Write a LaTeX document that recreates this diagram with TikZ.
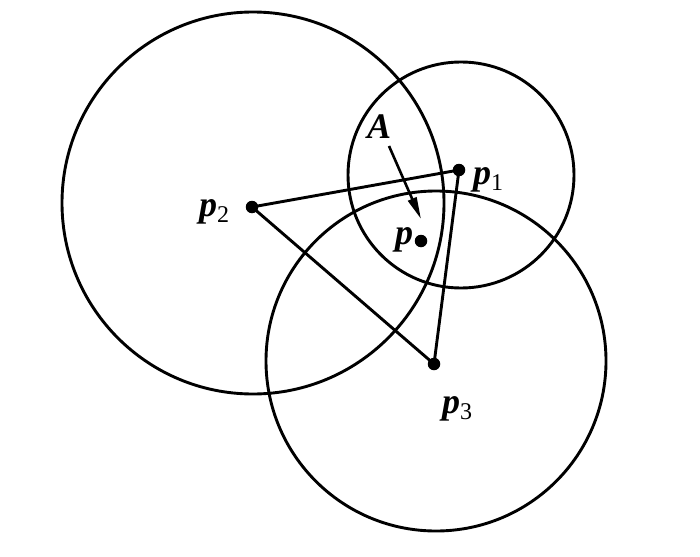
\documentclass[tikz,border=0pt]{standalone}
\usepackage{fontspec}
\setmainfont{Liberation Serif}
\usetikzlibrary{arrows.meta}
\tikzset{
  line/.style={line width=2.9pt},
  dot/.style={circle,fill=black,inner sep=0pt,minimum size=12.5pt},
  lbl/.style={inner sep=0pt,anchor=base west,font=\fontsize{36}{36}\selectfont\bfseries\itshape},
}
\newcommand{\subsc}[1]{\raisebox{-6pt}{\fontsize{24}{24}\selectfont\mdseries\upshape #1}}
\begin{document}
\begin{tikzpicture}[x=1pt,y=-1pt]
\useasboundingbox (0,0) rectangle (700,556);
% circles
\draw[line] (253,203) circle[radius=191pt];
\draw[line] (461,175) circle[radius=113pt];
\draw[line] (436,361) circle[radius=170pt];
% points
\coordinate (P1) at (459,170);
\coordinate (P2) at (252,207);
\coordinate (P3) at (434,364);
\coordinate (P) at (421,241);
\draw[line] (P2) -- (P1) -- (P3) -- cycle;
\node[dot] (p1) at (P1) {};
\node[dot] (p2) at (P2) {};
\node[dot] (p3) at (P3) {};
\node[dot] (p) at (P) {};
% labels
\node[lbl] (lA) at (367,139) {A};
\node[lbl] (lp) at (395,244) {p};
\node[lbl] (lp1) at (473,184) {p\subsc{1}};
\node[lbl] (lp2) at (199,216) {p\subsc{2}};
\node[lbl] (lp3) at (442,413) {p\subsc{3}};
% arrow
\coordinate (Atail) at (389,146);
\coordinate (Atip) at (421,219);
\draw[line width=2.6pt,-{Stealth[length=22pt,width=9pt,inset=0pt]}] (Atail) -- (Atip);
\end{tikzpicture}
\end{document}
